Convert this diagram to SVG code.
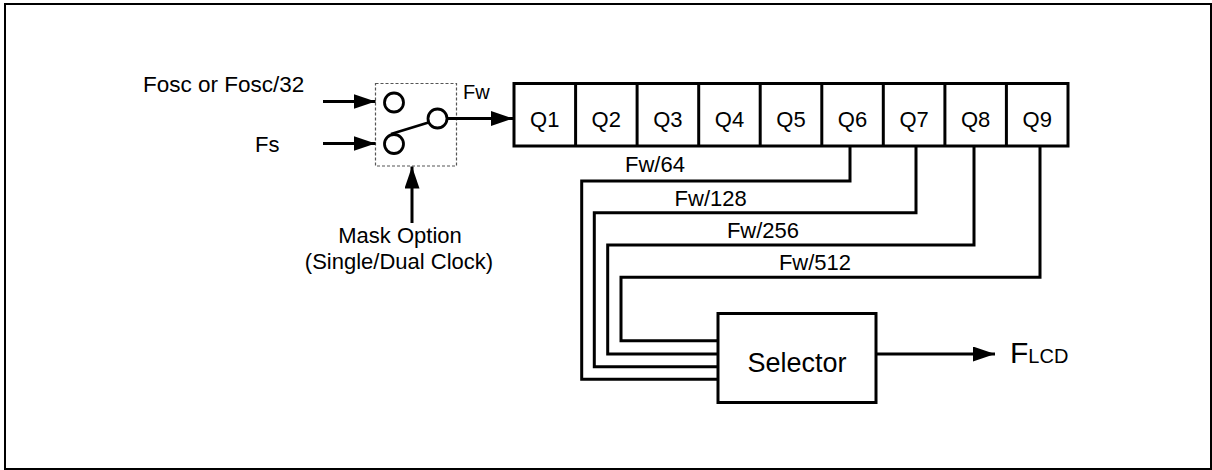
<svg xmlns="http://www.w3.org/2000/svg" width="1212" height="470" viewBox="0 0 1212 470">
<style>
  text { font-family: "Liberation Sans", Arial, sans-serif; fill: #000; }
  .lbl { font-size: 22px; }
  .mid { text-anchor: middle; }
  .wire { fill: none; stroke: #000; stroke-width: 3; }
  .box { fill: #fff; stroke: #000; stroke-width: 3; }
  .node { fill: #fff; stroke: #000; stroke-width: 2.8; }
</style>
<defs>
  <marker id="arr" viewBox="0 0 22 15" refX="22" refY="7.5" markerWidth="22" markerHeight="15" markerUnits="userSpaceOnUse" orient="auto">
    <path d="M0,0 L22,7.5 L0,15 Z" fill="#000"/>
  </marker>
</defs>
<rect x="5" y="4" width="1206" height="465" fill="#fff" stroke="#000" stroke-width="2"/>

<g id="inputs">
  <text class="lbl" x="143" y="92" style="font-size:22.5px">Fosc or Fosc/32</text>
  <text class="lbl" x="255" y="152">Fs</text>
</g>

<g id="switch">
  <rect x="375.5" y="83.5" width="81" height="82.5" fill="none" stroke="#555" stroke-width="1.2" stroke-dasharray="3,2"/>
  <circle class="node" cx="394" cy="102.5" r="9.5"/>
  <circle class="node" cx="394" cy="144" r="9.5"/>
  <circle class="node" cx="437.5" cy="118.5" r="9.5"/>
  <line x1="391" y1="134" x2="428.5" y2="122.5" stroke="#000" stroke-width="2.8"/>
  <text x="463" y="99" style="font-size:20px">Fw</text>
</g>

<g id="register">
  <rect class="box" x="514" y="83.5" width="554" height="62.5"/>
  <g stroke="#000" stroke-width="3">
    <line x1="575.6" y1="83.5" x2="575.6" y2="146"/>
    <line x1="637.1" y1="83.5" x2="637.1" y2="146"/>
    <line x1="698.7" y1="83.5" x2="698.7" y2="146"/>
    <line x1="760.2" y1="83.5" x2="760.2" y2="146"/>
    <line x1="821.8" y1="83.5" x2="821.8" y2="146"/>
    <line x1="883.3" y1="83.5" x2="883.3" y2="146"/>
    <line x1="944.9" y1="83.5" x2="944.9" y2="146"/>
    <line x1="1006.4" y1="83.5" x2="1006.4" y2="146"/>
  </g>
  <text class="lbl mid" x="544.8" y="127">Q1</text>
  <text class="lbl mid" x="606.3" y="127">Q2</text>
  <text class="lbl mid" x="667.9" y="127">Q3</text>
  <text class="lbl mid" x="729.5" y="127">Q4</text>
  <text class="lbl mid" x="791" y="127">Q5</text>
  <text class="lbl mid" x="852.5" y="127">Q6</text>
  <text class="lbl mid" x="914.1" y="127">Q7</text>
  <text class="lbl mid" x="975.6" y="127">Q8</text>
  <text class="lbl mid" x="1037.2" y="127">Q9</text>
</g>

<g id="selector">
  <rect class="box" x="718" y="313.5" width="158" height="89"/>
  <text class="mid" x="797" y="372" style="font-size:27px">Selector</text>
</g>

<g id="output">
  <text x="1010" y="363" style="font-size:30px">F<tspan style="font-size:20px">LCD</tspan></text>
</g>

<g id="mask">
  <text class="lbl mid" x="400" y="243">Mask Option</text>
  <text class="lbl mid" x="399" y="269">(Single/Dual Clock)</text>
</g>

<g id="connectors">
  <line class="wire" x1="323" y1="101.5" x2="375.5" y2="101.5" marker-end="url(#arr)"/>
  <line class="wire" x1="323" y1="143.5" x2="375.5" y2="143.5" marker-end="url(#arr)"/>
  <line class="wire" x1="447" y1="118.5" x2="513" y2="118.5" marker-end="url(#arr)"/>
  <line class="wire" x1="412" y1="223" x2="412" y2="166.5" marker-end="url(#arr)"/>
  <path class="wire" d="M850 146 V181 H581.7 V379.3 H718"/>
  <path class="wire" d="M916 146 V212.7 H594.3 V366.7 H718"/>
  <path class="wire" d="M974 146 V245 H607.7 V354 H718"/>
  <path class="wire" d="M1040 146 V277.3 H621 V340.7 H718"/>
  <line class="wire" x1="876" y1="354" x2="995" y2="354" stroke-width="2.5" marker-end="url(#arr)"/>
  <text class="lbl mid" x="655" y="172">Fw/64</text>
  <text class="lbl mid" x="710.7" y="206">Fw/128</text>
  <text class="lbl mid" x="763" y="238">Fw/256</text>
  <text class="lbl mid" x="815" y="269.5">Fw/512</text>
</g>
</svg>
